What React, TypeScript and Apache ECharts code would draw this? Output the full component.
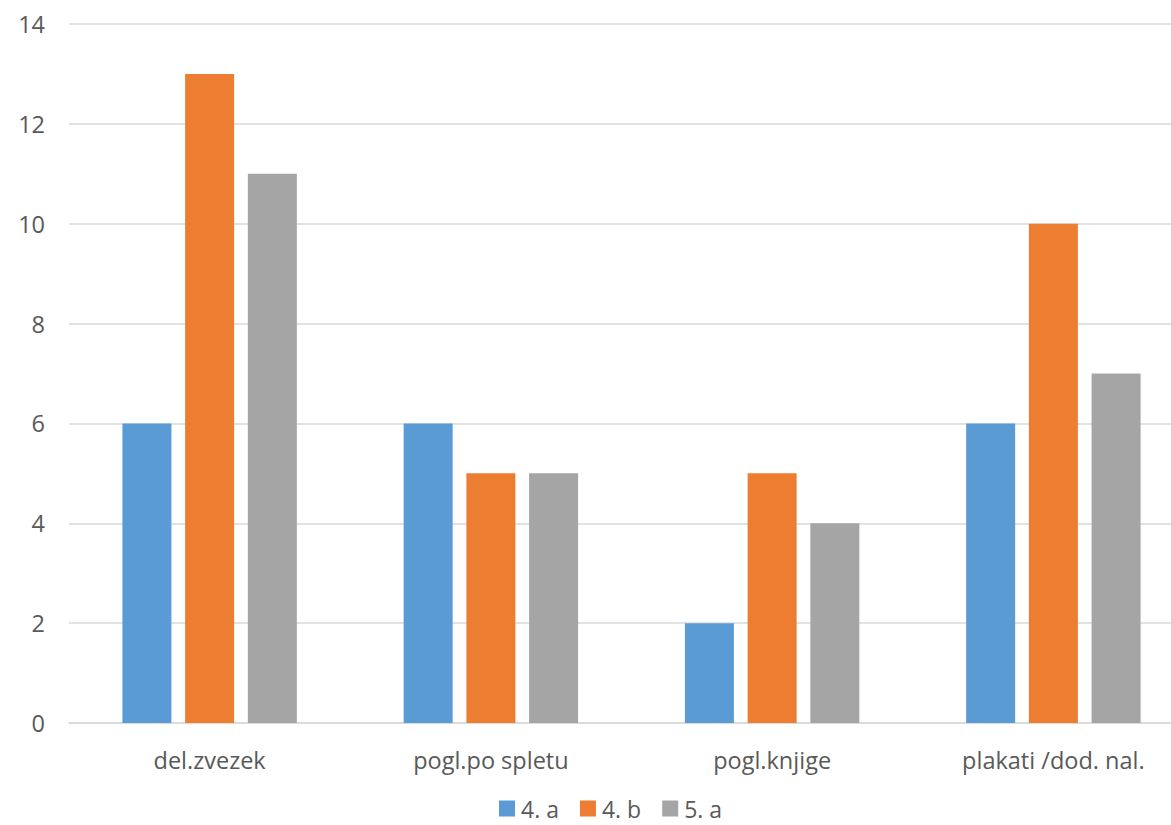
import React, { useEffect, useRef } from "react";
import * as echarts from "echarts";

const categories = ["del.zvezek", "pogl.po spletu", "pogl.knjige", "plakati /dod. nal."];
const seriesNames = ["4. a", "4. b", "5. a"];
const values4a = [6, 6, 2, 6];
const values4b = [13, 5, 5, 10];
const values5a = [11, 5, 4, 7];
const colors = ["#5B9BD5", "#ED7D31", "#A5A5A5"];

export default function App() {
  const ref = useRef<HTMLDivElement>(null);
  useEffect(() => {
    document.body.style.margin = "0";
    const chart = echarts.init(ref.current!, null, { renderer: "svg" });
    const font = "'Open Sans', sans-serif";
    const data = [values4a, values4b, values5a];
    chart.setOption({
      animation: false,
      textStyle: { fontFamily: font },
      grid: {
        left: 69,
        right: -23,
        top: 24,
        bottom: 102,
        containLabel: false,
        outerBoundsMode: "none",
      },
      legend: {
        bottom: 5,
        left: 499,
        padding: 0,
        itemWidth: 16,
        itemHeight: 16,
        itemGap: 21,
        icon: "rect",
        textStyle: {
          color: "#595959",
          fontSize: 23,
          lineHeight: 22,
          fontFamily: font,
          padding: [0, 0, 0, 1],
        },
        data: seriesNames,
      },
      xAxis: {
        type: "category",
        data: categories,
        axisLine: { lineStyle: { color: "#d9d9d9", width: 1.5 } },
        axisTick: { show: false },
        axisLabel: { color: "#595959", fontSize: 23.5, margin: 25, fontFamily: font },
      },
      yAxis: {
        type: "value",
        min: 0,
        max: 14,
        interval: 2,
        axisLine: { show: false },
        axisTick: { show: false },
        splitLine: { lineStyle: { color: "#d9d9d9", width: 1.5 } },
        axisLabel: { color: "#595959", fontSize: 23.5, margin: 24, fontFamily: font },
      },
      series: seriesNames.map((name, i) => ({
        name,
        type: "bar",
        data: data[i],
        barWidth: 49,
        barGap: "28%",
        itemStyle: { color: colors[i] },
      })),
    });
    return () => chart.dispose();
  }, []);
  return (
    <div
      ref={ref}
      style={{ position: "absolute", left: 0, top: 0, width: 1171, height: 825, overflow: "hidden" }}
    />
  );
}
